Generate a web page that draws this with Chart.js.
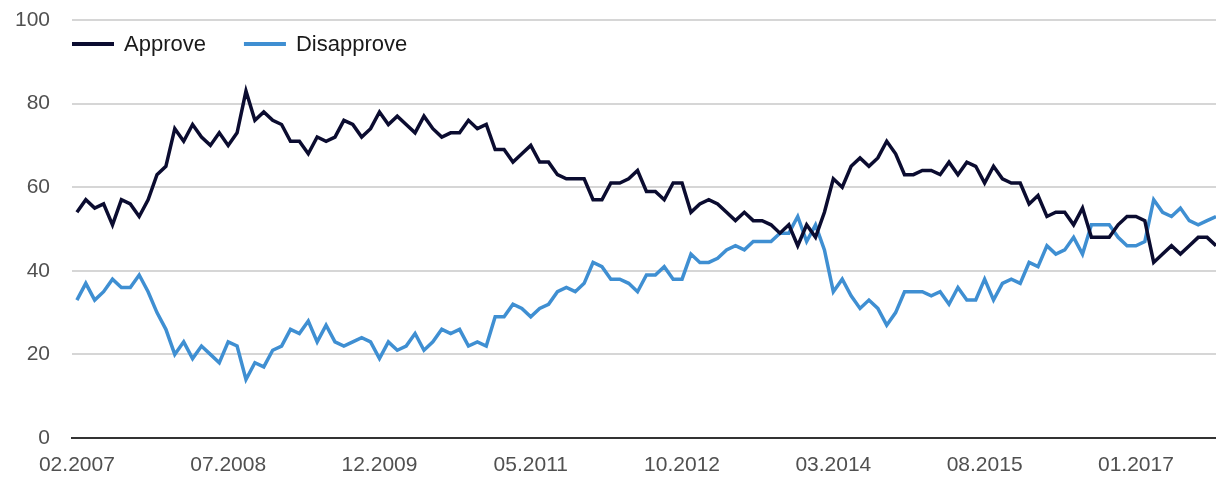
<!DOCTYPE html>
<html>
<head>
<meta charset="utf-8">
<script src="https://cdn.jsdelivr.net/npm/chart.js@4/dist/chart.umd.min.js"></script>
<style>
  html, body { margin: 0; padding: 0; background: #fff; }
  #wrap { width: 1216px; height: 480px; position: relative; }
</style>
</head>
<body>
<div id="wrap"><canvas id="chart"></canvas></div>
<script>
// Monthly series, 02.2007 onwards
const approve = [
  54, 57, 55, 56, 51, 57, 56, 53, 57, 63, 65, 74, 71, 75, 72, 70, 73, 70, 73, 83,
  76, 78, 76, 75, 71, 71, 68, 72, 71, 72, 76, 75, 72, 74, 78, 75, 77, 75, 73, 77,
  74, 72, 73, 73, 76, 74, 75, 69, 69, 66, 68, 70, 66, 66, 63, 62, 62, 62, 57, 57,
  61, 61, 62, 64, 59, 59, 57, 61, 61, 54, 56, 57, 56, 54, 52, 54, 52, 52, 51, 49,
  51, 46, 51, 48, 54, 62, 60, 65, 67, 65, 67, 71, 68, 63, 63, 64, 64, 63, 66, 63,
  66, 65, 61, 65, 62, 61, 61, 56, 58, 53, 54, 54, 51, 55, 48, 48, 48, 51, 53, 53,
  52, 42, 44, 46, 44, 46, 48, 48, 46
];
const disapprove = [
  33, 37, 33, 35, 38, 36, 36, 39, 35, 30, 26, 20, 23, 19, 22, 20, 18, 23, 22, 14,
  18, 17, 21, 22, 26, 25, 28, 23, 27, 23, 22, 23, 24, 23, 19, 23, 21, 22, 25, 21,
  23, 26, 25, 26, 22, 23, 22, 29, 29, 32, 31, 29, 31, 32, 35, 36, 35, 37, 42, 41,
  38, 38, 37, 35, 39, 39, 41, 38, 38, 44, 42, 42, 43, 45, 46, 45, 47, 47, 47, 49,
  49, 53, 47, 51, 45, 35, 38, 34, 31, 33, 31, 27, 30, 35, 35, 35, 34, 35, 32, 36,
  33, 33, 38, 33, 37, 38, 37, 42, 41, 46, 44, 45, 48, 44, 51, 51, 51, 48, 46, 46,
  47, 57, 54, 53, 55, 52, 51, 52, 53
];
const seriesNames = ["Approve", "Disapprove"];
const seriesColors = ["#0b0c30", "#3f8fd2"];
const yTicks = [0, 20, 40, 60, 80, 100];
const tickLabels = ["02.2007", "07.2008", "12.2009", "05.2011", "10.2012", "03.2014", "08.2015", "01.2017"];
const tickStep = 17; // months between labels

const FONT = '"Liberation Sans", Arial, sans-serif';

// Legend drawn inside the plot, top-left
const insideLegend = {
  id: "insideLegend",
  afterDraw(chart) {
    const c = chart.ctx;
    c.save();
    c.font = "22px " + FONT;
    c.textBaseline = "middle";
    let x = chart.chartArea.left;
    const y = 44;
    chart.data.datasets.forEach(ds => {
      c.strokeStyle = ds.borderColor;
      c.lineWidth = 4;
      c.beginPath();
      c.moveTo(x, y);
      c.lineTo(x + 42, y);
      c.stroke();
      c.fillStyle = "#1a1a1a";
      c.fillText(ds.label, x + 52, y + 1);
      x += 52 + c.measureText(ds.label).width + 38;
    });
    c.restore();
  }
};

const toPoints = arr => arr.map((v, i) => ({ x: i, y: v }));

new Chart(document.getElementById("chart"), {
  type: "line",
  data: {
    datasets: [
      {
        label: seriesNames[0],
        data: toPoints(approve),
        borderColor: seriesColors[0],
        borderWidth: 3.5,
        pointRadius: 0,
        tension: 0
      },
      {
        label: seriesNames[1],
        data: toPoints(disapprove),
        borderColor: seriesColors[1],
        borderWidth: 3.5,
        pointRadius: 0,
        tension: 0
      }
    ]
  },
  options: {
    responsive: true,
    maintainAspectRatio: false,
    animation: false,
    layout: { padding: { top: 20, right: 0, left: 0, bottom: 0 } },
    plugins: {
      legend: { display: false },
      tooltip: { enabled: false }
    },
    scales: {
      x: {
        type: "linear",
        min: -0.55,
        max: approve.length - 1,
        afterFit: s => { s.height = 42; },
        afterBuildTicks: s => {
          s.ticks = tickLabels.map((_, i) => ({ value: i * tickStep }));
        },
        grid: { display: false, drawTicks: false },
        border: { display: true, color: "#333333", width: 2 },
        ticks: {
          padding: 15,
          color: "#505050",
          font: { family: FONT, size: 21 },
          maxRotation: 0,
          autoSkip: false,
          callback: v => tickLabels[Math.round(v / tickStep)]
        }
      },
      y: {
        min: 0,
        max: 100,
        afterFit: s => {
          s.width = 72;
          s.paddingTop = 0;
          s.paddingBottom = 0;
        },
        afterBuildTicks: s => {
          s.ticks = yTicks.map(v => ({ value: v }));
        },
        grid: { color: "#d6d6d6", lineWidth: 2, drawTicks: false },
        border: { display: false },
        ticks: {
          padding: 22,
          color: "#505050",
          font: { family: FONT, size: 21 }
        }
      }
    }
  },
  plugins: [insideLegend]
});
</script>
</body>
</html>
